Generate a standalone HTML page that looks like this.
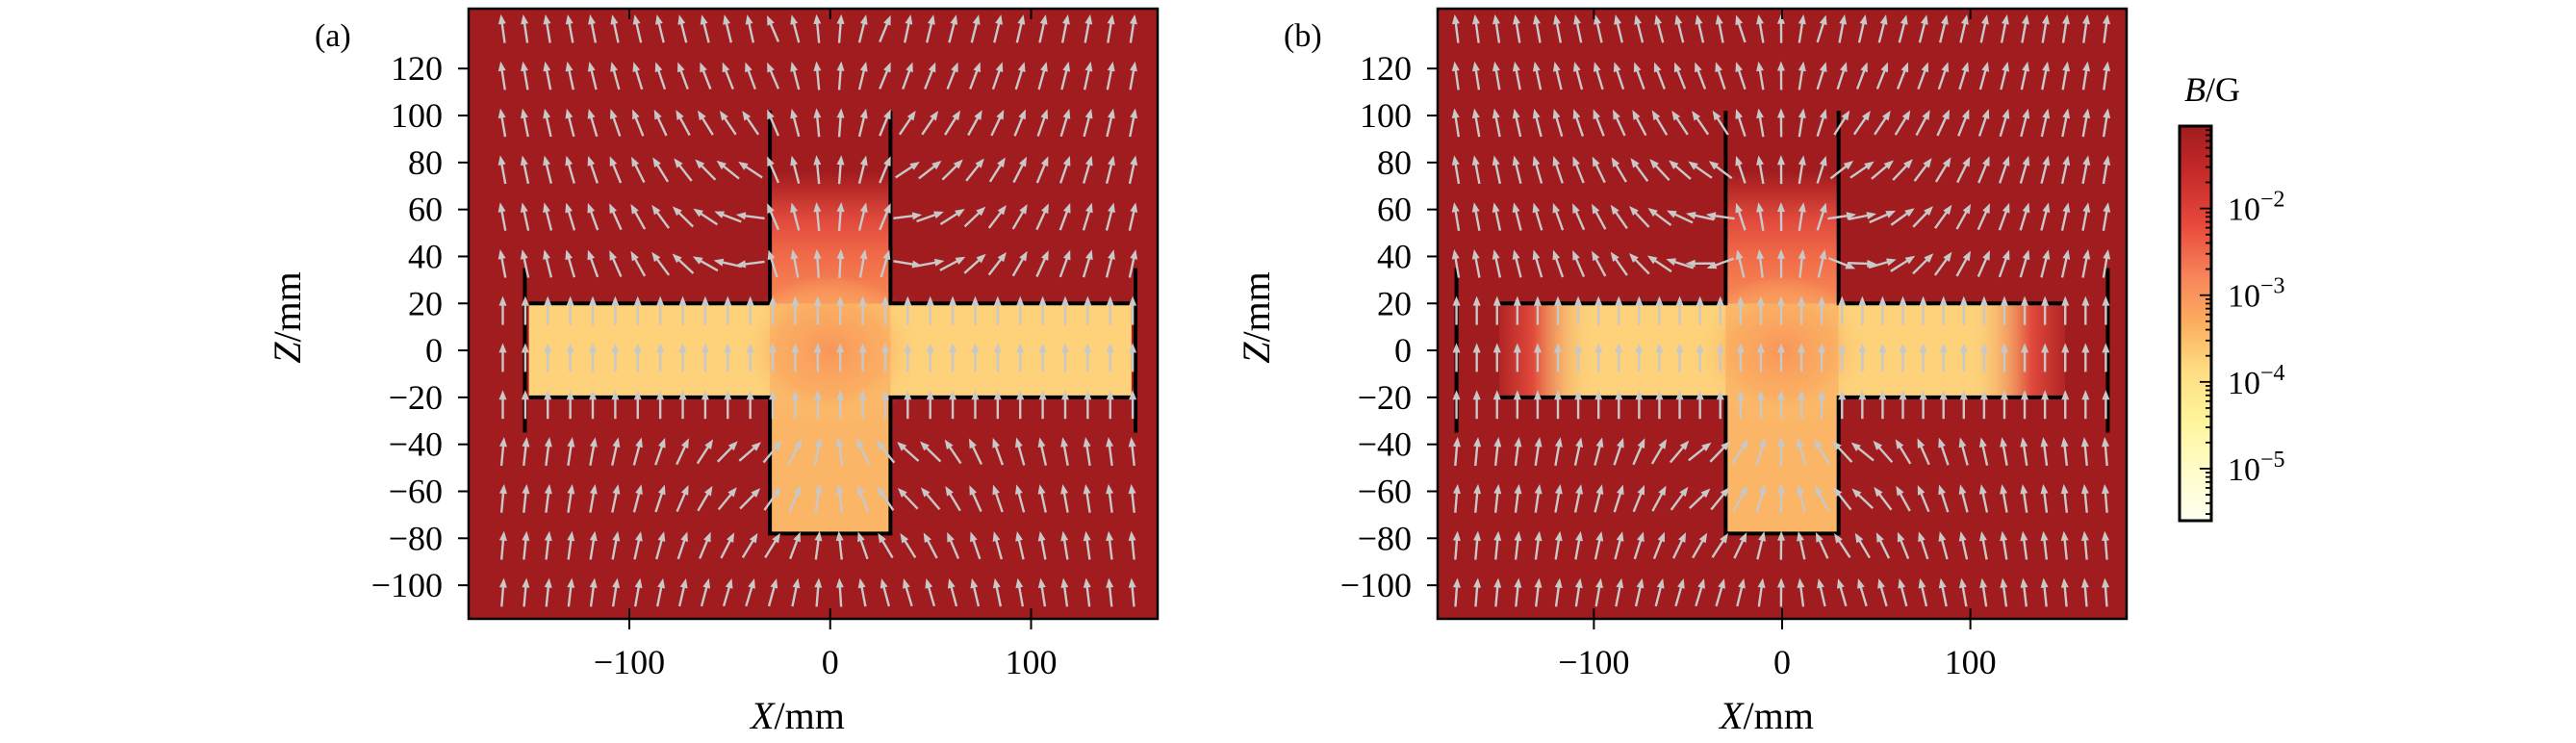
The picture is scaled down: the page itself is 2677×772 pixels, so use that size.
<!DOCTYPE html>
<html><head><meta charset="utf-8"><style>
html,body{margin:0;padding:0;background:#fff;}
svg{display:block;font-family:"Liberation Serif","DejaVu Serif",serif;}
</style></head><body>
<svg id="fig" width="2677" height="772" viewBox="0 0 2677 772" xmlns="http://www.w3.org/2000/svg">
<defs>
  <linearGradient id="tubeGrad" x1="0" y1="1" x2="0" y2="0">
    <stop offset="0" stop-color="#f88a55"/>
    <stop offset="0.2" stop-color="#f06a48"/>
    <stop offset="0.35" stop-color="#e04a3c"/>
    <stop offset="0.48" stop-color="#b82a28"/>
    <stop offset="0.55" stop-color="#a11c1e"/>
    <stop offset="1" stop-color="#a11c1e"/>
  </linearGradient>
  <radialGradient id="centerGlow" cx="0.5" cy="0.5" r="0.5">
    <stop offset="0" stop-color="#f8955a" stop-opacity="1"/>
    <stop offset="0.6" stop-color="#fba860" stop-opacity="0.6"/>
    <stop offset="1" stop-color="#fdd27a" stop-opacity="0"/>
  </radialGradient>
  <linearGradient id="endL" x1="0" y1="0" x2="1" y2="0">
    <stop offset="0" stop-color="#b22525"/>
    <stop offset="0.35" stop-color="#e0493b"/>
    <stop offset="1" stop-color="#fdd27a" stop-opacity="0"/>
  </linearGradient>
  <linearGradient id="endR" x1="1" y1="0" x2="0" y2="0">
    <stop offset="0" stop-color="#b22525"/>
    <stop offset="0.35" stop-color="#e0493b"/>
    <stop offset="1" stop-color="#fdd27a" stop-opacity="0"/>
  </linearGradient>
  <linearGradient id="cbGrad" x1="0" y1="0" x2="0" y2="1">
    <stop offset="0" stop-color="#a11c1e"/>
    <stop offset="0.12" stop-color="#c62a2a"/>
    <stop offset="0.25" stop-color="#e8493b"/>
    <stop offset="0.38" stop-color="#f7845a"/>
    <stop offset="0.5" stop-color="#fcae60"/>
    <stop offset="0.62" stop-color="#fedd82"/>
    <stop offset="0.75" stop-color="#fff59c"/>
    <stop offset="0.88" stop-color="#fffccc"/>
    <stop offset="1" stop-color="#fffff0"/>
  </linearGradient>
  <clipPath id="clipA"><rect x="487" y="9" width="716" height="634"/></clipPath>
  <clipPath id="clipB"><rect x="1494" y="9" width="716" height="634"/></clipPath>
</defs>
<g id="layer"></g>
</svg>
<script>
// ---- data ----
const xTicks = [-100, 0, 100];
const yTicks = [120, 100, 80, 60, 40, 20, 0, -20, -40, -60, -80, -100];
const cbDecades = [-2, -3, -4, -5];
const panelLabels = ["(a)", "(b)"];
const xLimA = [-180, 163];
const xLimB = [-183, 183];
const yLim = [-114.3, 145.5];
const barHalfLen = 150;
const barHalfH = 20;
const tubeHalfW = 30;
const tubeTop = 102;
const tubeBottom = -78;
const endWallA = 152, endWallB = 173, endWallH = 35;
const arrowRows = [137,117,97,77,57,37,17,-3,-23,-43,-63,-83,-103];

const NS = "http://www.w3.org/2000/svg";
const layer = document.getElementById('layer');
function mk(tag, attrs, parent){
  const e = document.createElementNS(NS, tag);
  for (const k in attrs) e.setAttribute(k, attrs[k]);
  (parent||layer).appendChild(e);
  return e;
}
function span(parent, txt, attrs){
  const t = mk('tspan', attrs||{}, parent);
  t.textContent = txt;
  return t;
}
const PY0 = 9, PY1 = 643;
function yS(v){ return PY1 - (v - yLim[0])/(yLim[1]-yLim[0])*(PY1-PY0); }

function field(x, z){
  let vx = 0, vz = 1;
  const inTube = Math.abs(x) < tubeHalfW && z > barHalfH;
  if (inTube){ vx += x/tubeHalfW*0.45*Math.min(1,(z-20)/40+0.3); }
  else if (z > barHalfH + 5){
    const rx = x, rz = z - 65; const r = Math.max(Math.hypot(rx,rz), 40);
    const k = 5000/(r*r*r); vx += k*rx; vz += k*rz;
  } else if (z < -barHalfH - 5){
    const rx = x, rz = z + 50; const r = Math.max(Math.hypot(rx,rz), 45);
    const k = 2500/(r*r*r); vx -= k*rx; vz -= k*rz*0.3;
  }
  return [vx, vz];
}

function panel(idx, px0, px1, xl, endWall, clipId){
  const g = mk('g', {});
  
  
  const xS = v => px0 + (v - xl[0])/(xl[1]-xl[0])*(px1-px0);
  const plot = mk('g', {'clip-path':'url(#'+clipId+')'}, g);
  
  
  mk('rect', {x:px0, y:PY0, width:px1-px0, height:PY1-PY0, fill:'#a11c1e'}, plot);
  const bar = mk('rect', {x:xS(-barHalfLen), y:yS(barHalfH), width:xS(barHalfLen)-xS(-barHalfLen), height:yS(-barHalfH)-yS(barHalfH), fill:'#fdd27a'}, plot);
  
  
  mk('rect', {x:xS(-tubeHalfW), y:yS(barHalfH), width:xS(tubeHalfW)-xS(-tubeHalfW), height:yS(tubeBottom)-yS(barHalfH), fill:'#fbb566'}, plot);
  const tube = mk('rect', {x:xS(-tubeHalfW), y:yS(tubeTop+20), width:xS(tubeHalfW)-xS(-tubeHalfW), height:yS(barHalfH)-yS(tubeTop+20), fill:'url(#tubeGrad)'}, plot);
  
  
  mk('ellipse', {cx:xS(0), cy:yS(0), rx:(xS(45)-xS(0)), ry:(yS(-32)-yS(0)), fill:'url(#centerGlow)'}, plot);
  if (idx===1){
    mk('rect', {x:xS(-barHalfLen), y:yS(barHalfH), width:xS(-100)-xS(-barHalfLen), height:yS(-barHalfH)-yS(barHalfH), fill:'url(#endL)'}, plot);
    mk('rect', {x:xS(100), y:yS(barHalfH), width:xS(barHalfLen)-xS(100), height:yS(-barHalfH)-yS(barHalfH), fill:'url(#endR)'}, plot);
  }
  const wallPts = [
    [[-barHalfLen,barHalfH],[-tubeHalfW,barHalfH],[-tubeHalfW,tubeTop]],
    [[barHalfLen,barHalfH],[tubeHalfW,barHalfH],[tubeHalfW,tubeTop]],
    [[-barHalfLen,-barHalfH],[-tubeHalfW,-barHalfH],[-tubeHalfW,tubeBottom],[tubeHalfW,tubeBottom],[tubeHalfW,-barHalfH],[barHalfLen,-barHalfH]],
    [[-endWall,endWallH],[-endWall,-endWallH]],
    [[endWall,endWallH],[endWall,-endWallH]]
  ];
  wallPts.forEach(pts=>{
    const w = mk('polyline', {points:pts.map(p=>xS(p[0])+','+yS(p[1])).join(' '), fill:'none', stroke:'#000', 'stroke-width':4}, plot);
    
    
  });
  const ncol = idx===0 ? 29 : 33;
  const xStart = idx===0 ? -163 : -173, xStep = idx===0 ? 11.2 : 10.78;
  const ag = mk('g', {fill:'#c8c8c8', stroke:'#c8c8c8'}, plot);
  
  
  for (const zr of arrowRows){
    for (let c=0;c<ncol;c++){
      const xv = xStart + c*xStep;
      const [vx,vz] = field(xv, zr);
      const n = Math.hypot(vx,vz); const ux = vx/n, uz = vz/n;
      const cx = xS(xv), cy = yS(zr), L = 30;
      const x1 = cx - ux*L/2, y1 = cy + uz*L/2, x2 = cx + ux*L/2, y2 = cy - uz*L/2;
      mk('line', {x1:x1, y1:y1, x2:x2-ux*6, y2:y2+uz*6, 'stroke-width':2.4}, ag);
      const px = -uz, py = -ux;
      const bx = x2 - ux*10, by = y2 + uz*10;
      mk('polygon', {points:`${x2},${y2} ${bx+px*4},${by+py*4} ${bx-px*4},${by-py*4}`, stroke:'none'}, ag);
    }
  }
  mk('rect', {x:px0, y:PY0, width:px1-px0, height:PY1-PY0, fill:'none', stroke:'#000', 'stroke-width':2.5}, g);
  xTicks.forEach(t=>{
    const x = xS(t);
    mk('line', {x1:x, y1:PY1, x2:x, y2:PY1+11, stroke:'#000','stroke-width':2}, g);
    mk('line', {x1:x, y1:PY1, x2:x, y2:PY1-11, stroke:'#000','stroke-width':2}, g);
    mk('line', {x1:x, y1:PY0, x2:x, y2:PY0+11, stroke:'#000','stroke-width':2}, g);
    const lb = mk('text', {x:x, y:700, 'font-size':36, 'text-anchor':'middle'}, g);
    lb.textContent = (t<0?'\u2212':'') + Math.abs(t);
    
    
  });
  yTicks.forEach(t=>{
    const y = yS(t);
    mk('line', {x1:px0-11, y1:y, x2:px0, y2:y, stroke:'#000','stroke-width':2}, g);
    const lb = mk('text', {x:px0-27, y:y+12, 'font-size':36, 'text-anchor':'end'}, g);
    lb.textContent = (t<0?'\u2212':'') + Math.abs(t);
    
    
  });
  const xl_ = mk('text', {x:(px0+px1)/2 - 16, y:757, 'font-size':40, 'text-anchor':'middle'}, g);
  span(xl_, 'X', {'font-style':'italic'}); span(xl_, '/mm');
  
  
  const yl_ = mk('text', {x:0, y:0, 'font-size':40, 'text-anchor':'middle', transform:`translate(${px0-175},330) rotate(-90)`}, g);
  span(yl_, 'Z', {'font-style':'italic'}); span(yl_, '/mm');
  
  
  const pl = mk('text', {x:px0-160, y:48, 'font-size':34}, g);
  pl.textContent = panelLabels[idx];
  
  
}
panel(0, 487, 1203, xLimA, endWallA, 'clipA');
panel(1, 1494, 2210, xLimB, endWallB, 'clipB');

const CB = {x:2265, w:33, y0:131, y1:541, top:-1.05, bot:-5.6};
const cbS = v => CB.y0 + (CB.top - v)/(CB.top-CB.bot)*(CB.y1-CB.y0);
const cg = mk('g', {});


mk('rect', {x:CB.x, y:CB.y0, width:CB.w, height:CB.y1-CB.y0, fill:'url(#cbGrad)'}, cg);
for (let d=-6; d<=-1; d++){
  for (let m=1; m<=9; m++){
    const v = d + Math.log10(m);
    if (v > CB.top || v < CB.bot) continue;
    const y = cbS(v), len = m===1 ? 12 : 6;
    mk('line', {x1:CB.x+CB.w-len, y1:y, x2:CB.x+CB.w, y2:y, stroke:'#000','stroke-width':1.8}, cg);
  }
}
mk('rect', {x:CB.x, y:CB.y0, width:CB.w, height:CB.y1-CB.y0, fill:'none', stroke:'#000','stroke-width':3}, cg);
cbDecades.forEach(d=>{
  const t = mk('text', {x:2315, y:cbS(d)+12, 'font-size':34}, cg);
  span(t, '10');
  span(t, '\u2212' + Math.abs(d), {dy:'-14', 'font-size':'24'});
  
  
});
const ct = mk('text', {x:2270, y:105, 'font-size':36}, cg);
span(ct, 'B', {'font-style':'italic'}); span(ct, '/G');


</script>
</body></html>
